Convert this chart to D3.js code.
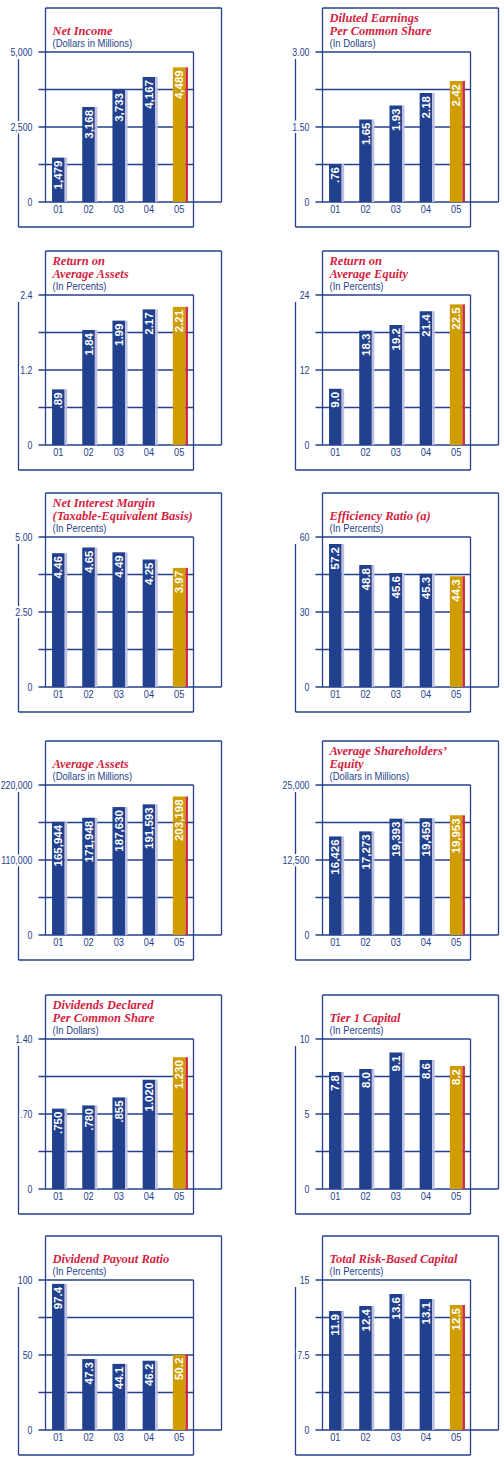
<!DOCTYPE html>
<html>
<head>
<meta charset="utf-8">
<script src="https://cdn.jsdelivr.net/npm/d3@7"></script>
<style>
  body { margin: 0; background: #fff; }
  svg { display: block; }
</style>
</head>
<body>
<div id="chart"></div>
<script>
// years on the x axis
const years = ['01', '02', '03', '04', '05']

// series values
const netIncome = [1479, 3168, 3733, 4167, 4489]
const dilutedEps = [0.76, 1.65, 1.93, 2.18, 2.42]
const returnAssets = [0.89, 1.84, 1.99, 2.17, 2.21]
const returnEquity = [9.0, 18.3, 19.2, 21.4, 22.5]
const interestMargin = [4.46, 4.65, 4.49, 4.25, 3.97]
const efficiency = [57.2, 48.8, 45.6, 45.3, 44.3]
const avgAssets = [165944, 171948, 187630, 191593, 203198]
const avgEquity = [16426, 17273, 19393, 19459, 19953]
const dividends = [0.750, 0.780, 0.855, 1.020, 1.230]
const tier1 = [7.8, 8.0, 9.1, 8.6, 8.2]
const payout = [97.4, 47.3, 44.1, 46.2, 50.2]
const riskCapital = [11.9, 12.4, 13.6, 13.1, 12.5]

// axis maximums and tick labels (0, half, max)
const axisMax = [5000, 3, 2.4, 24, 5, 60, 220000, 25000, 1.4, 10, 100, 15]
const tickLabels = [
  ['0', '2,500', '5,000'],
  ['0', '1.50', '3.00'],
  ['0', '1.2', '2.4'],
  ['0', '12', '24'],
  ['0', '2.50', '5.00'],
  ['0', '30', '60'],
  ['0', '110,000', '220,000'],
  ['0', '12,500', '25,000'],
  ['0', '.70', '1.40'],
  ['0', '5', '10'],
  ['0', '50', '100'],
  ['0', '7.5', '15']
]

const titles = [
  ['Net Income'],
  ['Diluted Earnings', 'Per Common Share'],
  ['Return on', 'Average Assets'],
  ['Return on', 'Average Equity'],
  ['Net Interest Margin', '(Taxable-Equivalent Basis)'],
  ['Efficiency Ratio (a)'],
  ['Average Assets'],
  ['Average Shareholders\u2019', 'Equity'],
  ['Dividends Declared', 'Per Common Share'],
  ['Tier 1 Capital'],
  ['Dividend Payout Ratio'],
  ['Total Risk-Based Capital']
]
const units = [
  '(Dollars in Millions)', '(In Dollars)',
  '(In Percents)', '(In Percents)',
  '(In Percents)', '(In Percents)',
  '(Dollars in Millions)', '(Dollars in Millions)',
  '(In Dollars)', '(In Percents)',
  '(In Percents)', '(In Percents)'
]

// label formats: decimals, thousands separator, drop leading zero
const fmtThousands = d3.format(',')
const dropZero = s => s.replace(/^0\./, '.')
const valueFormats = [
  fmtThousands,
  d => dropZero(d3.format('.2f')(d)),
  d => dropZero(d3.format('.2f')(d)),
  d3.format('.1f'),
  d3.format('.2f'),
  d3.format('.1f'),
  fmtThousands,
  fmtThousands,
  d => dropZero(d3.format(',.3f')(d)),
  d3.format('.1f'),
  d3.format('.1f'),
  d3.format('.1f')
]

const series = [netIncome, dilutedEps, returnAssets, returnEquity, interestMargin, efficiency,
  avgAssets, avgEquity, dividends, tier1, payout, riskCapital]

// colours
const navy = '#21408d'
const lineColor = '#273f8c'
const lavender = '#bcc1e1'
const gold = '#cf9d00'
const red = '#d32844'
const titleRed = '#d21f43'

const sans = 'Liberation Sans, Arial, sans-serif'

// layout
const width = 504
const height = 1475
const rowTops = [52, 295, 537, 785, 1039, 1280]
const colLefts = [18.5, 295.5]
const plotH = 150
const innerW = 175

const svg = d3.select('#chart')
  .append('svg')
  .attr('width', width)
  .attr('height', height)

svg.append('rect').attr('width', width).attr('height', height).attr('fill', '#fff')

series.forEach((values, i) => {
  const L = colLefts[i % 2]
  const T = rowTops[Math.floor(i / 2)]
  const zero = T + plotH
  const max = axisMax[i]

  const y = d3.scaleLinear().domain([0, max]).range([zero, T])
  const x = d3.scaleBand()
    .domain(years)
    .range([L + 26, L + 177])
    .paddingInner(0.5)
    .paddingOuter(0.25)

  const g = svg.append('g')
  const line = (x1, y1, x2, y2) => g.append('line')
    .attr('x1', x1).attr('y1', y1).attr('x2', x2).attr('y2', y2)
    .attr('stroke', lineColor)
    .attr('stroke-width', 1.3)

  // outer box (top, left, right)
  const oL = L + 27, oR = L + 203, oT = T - 44
  line(oL, oT, oR, oT)
  line(oL, oT, oL, zero)
  line(oR, oT, oR, zero)

  // inner box
  line(L, T + 7, L, T + 175)
  line(L, T + 175, L + innerW, T + 175)
  line(L + innerW, T, L + innerW, T + 175)

  // gridlines at quarters
  const grid = [0.25, 0.5, 0.75, 1].map(f => f * max)
  grid.forEach(v => line(L + 20, y(v), L + innerW, y(v)))
  // zero line runs out to the outer box
  line(L + 20, zero, oR, zero)

  // tick labels (condensed look)
  g.selectAll('text.tick')
    .data([0, max / 2, max])
    .enter()
    .append('text')
    .attr('class', 'tick')
    .attr('transform', d => `translate(${L + 14},${y(d)}) scale(0.84,1)`)
    .attr('dy', '0.36em')
    .attr('text-anchor', 'end')
    .attr('font-family', sans)
    .attr('font-size', 10.5)
    .attr('fill', lineColor)
    .attr('stroke', '#fff')
    .attr('stroke-width', 4)
    .attr('paint-order', 'stroke')
    .text((d, k) => tickLabels[i][k])

  // title
  const tLines = titles[i]
  tLines.forEach((t, k) => {
    g.append('text')
      .attr('x', L + 34)
      .attr('y', T - 17 - (tLines.length - 1 - k) * 13)
      .attr('font-family', 'Liberation Serif, Times New Roman, serif')
      .attr('font-style', 'italic')
      .attr('font-weight', 'bold')
      .attr('font-size', 12.5)
      .attr('fill', titleRed)
      .text(t)
  })
  g.append('text')
    .attr('transform', `translate(${L + 34},${T - 5}) scale(0.9,1)`)
    .attr('font-family', sans)
    .attr('font-size', 10.5)
    .attr('fill', lineColor)
    .text(units[i])

  // bars
  const bw = x.bandwidth()
  const strip = 2.5
  const bars = g.selectAll('g.bar')
    .data(values)
    .enter()
    .append('g')
    .attr('class', 'bar')

  bars.append('rect')
    .attr('x', (d, k) => x(years[k]))
    .attr('y', d => y(d))
    .attr('width', bw - strip)
    .attr('height', d => zero - y(d))
    .attr('fill', (d, k) => k === 4 ? gold : navy)

  bars.append('rect')
    .attr('x', (d, k) => x(years[k]) + bw - strip)
    .attr('y', d => y(d))
    .attr('width', strip)
    .attr('height', d => zero - y(d))
    .attr('fill', (d, k) => k === 4 ? red : lavender)

  // value labels, rotated inside the bar
  bars.append('text')
    .attr('transform', (d, k) => {
      const cx = x(years[k]) + (bw - strip) / 2
      return `translate(${cx},${y(d) + 3}) rotate(-90)`
    })
    .attr('dy', '0.36em')
    .attr('text-anchor', 'end')
    .attr('font-family', sans)
    .attr('font-weight', 'bold')
    .attr('font-size', 11.5)
    .attr('fill', '#fff')
    .text(d => valueFormats[i](d))

  // x labels
  g.selectAll('text.year')
    .data(years)
    .enter()
    .append('text')
    .attr('class', 'year')
    .attr('transform', d => `translate(${x(d) + (bw - strip) / 2},${zero + 11}) scale(0.88,1)`)
    .attr('text-anchor', 'middle')
    .attr('font-family', sans)
    .attr('font-size', 10.5)
    .attr('fill', lineColor)
    .text(d => d)
})
</script>
</body>
</html>
